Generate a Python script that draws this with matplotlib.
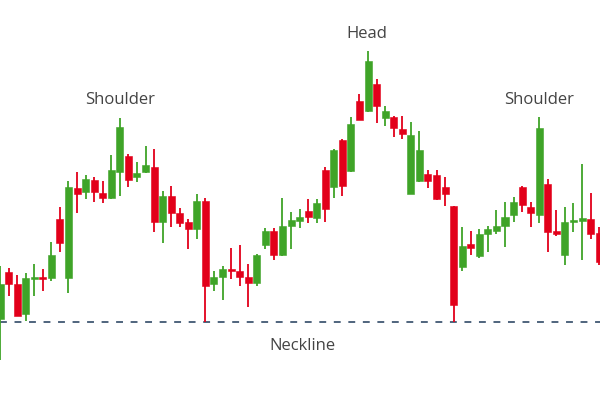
import numpy as np
import matplotlib.pyplot as plt

# candle data (price units)
opens = [81, 128, 116, 86, 121, 122, 122, 181, 122, 212, 208, 220, 207, 202, 228, 244, 223, 228, 233, 178,
         204, 187, 178, 171, 199, 116, 123, 131, 129, 123, 117, 155, 169, 145, 174, 179, 189, 182, 230, 213,
         260, 229, 299, 289, 316, 282, 283, 271, 206, 219, 226, 225, 213, 194, 133, 156, 144, 166, 169, 174,
         185, 213, 193, 185, 216, 169, 145, 178, 179, 181, 167]
closes = [116, 116, 84, 122, 122, 121, 145, 157, 213, 206, 221, 208, 202, 230, 273, 220, 227, 235, 178, 204,
          187, 177, 171, 199, 114, 123, 131, 129, 123, 117, 145, 169, 145, 174, 180, 183, 183, 197, 191, 250,
          214, 276, 280, 339, 294, 289, 272, 266, 265, 250, 219, 201, 206, 95, 154, 152, 166, 171, 174, 183,
          198, 195, 187, 272, 168, 166, 178, 180, 182, 166, 138]
highs = [134, 132, 125, 127, 136, 131, 158, 193, 219, 228, 225, 223, 219, 245, 282, 246, 238, 254, 251, 209,
         214, 192, 181, 206, 202, 129, 134, 152, 155, 136, 146, 172, 172, 202, 188, 191, 201, 201, 233, 251,
         261, 283, 306, 349, 321, 294, 284, 284, 278, 269, 230, 230, 223, 194, 173, 169, 171, 174, 190, 198,
         203, 214, 198, 283, 221, 190, 193, 197, 236, 207, 173]
lows = [40, 104, 84, 79, 104, 109, 119, 148, 107, 187, 201, 198, 197, 201, 204, 213, 218, 227, 168, 157,
        173, 173, 151, 161, 78, 109, 100, 121, 114, 93, 114, 151, 140, 144, 151, 172, 177, 177, 178, 202,
        204, 228, 280, 288, 277, 274, 263, 261, 206, 218, 212, 200, 194, 78, 129, 145, 142, 148, 166, 153,
        178, 188, 173, 177, 148, 164, 135, 168, 140, 161, 135]
neckline = 78

labels = ['Shoulder', 'Head', 'Shoulder', 'Neckline']
label_x = [14.0, 42.9, 63.0, 35.3]
label_y = [300, 366, 300, 54]

green = '#3fa428'
red = '#e2001a'

o = np.array(opens)
c = np.array(closes)
h = np.array(highs)
l = np.array(lows)
x = np.arange(len(o))
up = c >= o
cols = np.where(up, green, red)

fig = plt.figure(figsize=(6, 4), dpi=100)
ax = fig.add_axes([0, 0, 1, 1])

# wicks behind bodies
ax.vlines(x, l, h, colors=cols, linewidth=1.3, zorder=2)
body_bottom = np.minimum(o, c)
body_h = np.maximum(np.abs(c - o), 1.6)
ax.bar(x, body_h, bottom=body_bottom, width=0.82, color=cols, edgecolor=cols,
       linewidth=0.4, zorder=3)

ax.axhline(neckline, color='#1f3a5a', linewidth=1.1, dashes=(4.5, 5), zorder=1)

for txt, tx, ty in zip(labels, label_x, label_y):
    ax.text(tx, ty, txt, ha='center', va='center', fontsize=12,
            color='#444444', family='Open Sans')

ax.set_xlim(0, 70.1)
ax.set_ylim(0, 400)
ax.axis('off')

fig.savefig('out.png', dpi=100)
